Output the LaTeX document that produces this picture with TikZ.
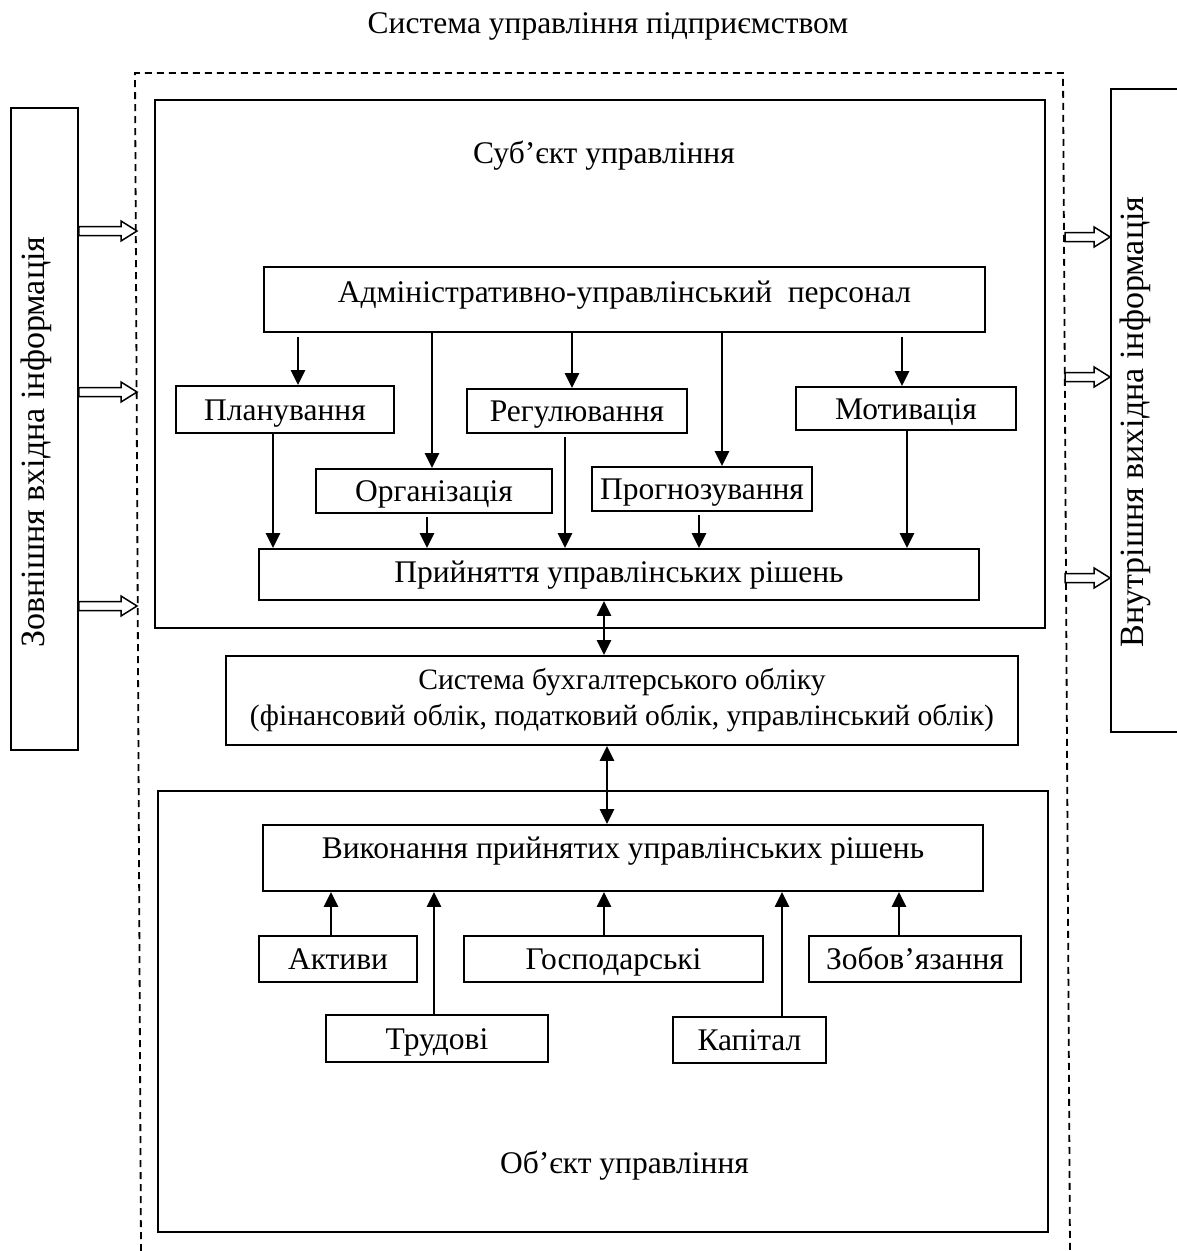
\documentclass[tikz,border=0pt]{standalone}
\usepackage{fontspec}
\setmainfont{Liberation Serif}
\usetikzlibrary{arrows.meta,calc}
\newcommand\blockarr[2]{\draw[hollow] let \p1=(#1), \p2=(#2) in
  (\x1,\y1+4.5pt) -- (\x2-16pt,\y1+4.5pt) -- (\x2-16pt,\y1+10pt) -- (\x2,\y1) --
  (\x2-16pt,\y1-10pt) -- (\x2-16pt,\y1-4.5pt) -- (\x1,\y1-4.5pt) -- cycle;}
\begin{document}
\begin{tikzpicture}[x=1pt,y=-1pt,
  bx/.style n args={2}{draw, line width=1.8pt, inner sep=0pt, minimum width=#1pt, minimum height=#2pt,
     font=\fontsize{31.5}{38}\selectfont, text height=21pt, text depth=0pt},
  big/.style n args={2}{draw, line width=1.8pt, inner sep=0pt, minimum width=#1pt, minimum height=#2pt},
  lbl/.style={font=\fontsize{31.5}{38}\selectfont, anchor=base, inner sep=0pt},
  vlbl/.style={font=\fontsize{34}{40}\selectfont, anchor=base, inner sep=0pt, rotate=90},
  arr/.style={line width=2.4pt, -{Triangle[width=14pt,length=15pt]}},
  darr/.style={line width=2.4pt, {Triangle[width=14pt,length=15pt]}-{Triangle[width=14pt,length=15pt]}},
  dframe/.style={line width=1.8pt, dash pattern=on 7pt off 5pt},
  hollow/.style={draw, line width=1.5pt, fill=white, line join=miter},
]
\useasboundingbox (0,0) rectangle (1176,1251);

% outer dashed frame
\coordinate (fA) at (141,1251);
\coordinate (fB) at (135,73);
\coordinate (fC) at (1063,73);
\coordinate (fD) at (1070,1251);
\draw[dframe] (fA) -- (fB) -- (fC) -- (fD);

\node[lbl] (title) at (608,33) {Система управління підприємством};

% big boxes
\node[big={890}{528}] (subj) at (600,364) {};
\node[big={890}{441}] (obj) at (603,1011.5) {};
\node[big={67}{642}] (leftbox) at (44.5,429) {};
\node[big={70}{643}] (rightbox) at (1146,410.5) {};

\node[lbl] (subjlbl) at (604,163) {Суб’єкт управління};
\node[lbl] (objlbl) at (624.5,1173) {Об’єкт управління};
\node[vlbl] (lefttxt) at (45,442) {Зовнішня вхідна інформація};
\node[vlbl] (righttxt) at (1143,422) {Внутрішня вихідна інформація};

% subject boxes
\node[bx={721}{65}, text depth=16pt] (admin) at (624.5,299.5) {Адміністративно-управлінський\ \ персонал};
\node[bx={218}{47}] (plan) at (285,409.5) {Планування};
\node[bx={236}{44}] (org) at (434,491) {Організація};
\node[bx={220}{44}] (reg) at (577,411) {Регулювання};
\node[bx={220}{44}] (prog) at (702,489) {Прогнозування};
\node[bx={220}{43}] (motiv) at (906,408.5) {Мотивація};
\node[bx={720}{51}, text depth=6pt] (pryin) at (619,574.5) {Прийняття управлінських рішень};

\node[big={792}{89}, align=center, font=\fontsize{29.6}{36}\selectfont] (buh) at (622,700.5)
  {Система бухгалтерського обліку\\(фінансовий облік, податковий облік, управлінський облік)};

% object boxes
\node[bx={720}{66}, text depth=21pt] (vyk) at (623,858) {Виконання прийнятих управлінських рішень};
\node[bx={158}{46}] (akt) at (338,959) {Активи};
\node[bx={222}{47}] (trud) at (437,1038.5) {Трудові};
\node[bx={299}{46}] (gosp) at (613.5,959) {Господарські};
\node[bx={153}{46}] (kap) at (749.5,1040) {Капітал};
\node[bx={212}{46}] (zob) at (915,959) {Зобов’язання};

% arrow x positions
\coordinate (xa1) at (298,0);
\coordinate (xa2) at (432,0);
\coordinate (xa3) at (572,0);
\coordinate (xa4) at (722,0);
\coordinate (xa5) at (902,0);
\coordinate (xb1) at (273,0);
\coordinate (xb2) at (427,0);
\coordinate (xb3) at (565,0);
\coordinate (xb4) at (699,0);
\coordinate (xb5) at (907,0);
\coordinate (xd1) at (604,0);
\coordinate (xd2) at (607,0);
\coordinate (xc1) at (331,0);
\coordinate (xc2) at (434,0);
\coordinate (xc3) at (604,0);
\coordinate (xc4) at (782,0);
\coordinate (xc5) at (899,0);

\draw[arr, shorten <=4pt] (admin.south -| xa1) -- (plan.north -| xa1);
\draw[arr] (admin.south -| xa2) -- (org.north -| xa2);
\draw[arr] (admin.south -| xa3) -- (reg.north -| xa3);
\draw[arr] (admin.south -| xa4) -- (prog.north -| xa4);
\draw[arr, shorten <=4pt] (admin.south -| xa5) -- (motiv.north -| xa5);

\draw[arr] (plan.south -| xb1) -- (pryin.north -| xb1);
\draw[arr, shorten <=3pt] (org.south -| xb2) -- (pryin.north -| xb2);
\draw[arr, shorten <=3pt] (reg.south -| xb3) -- (pryin.north -| xb3);
\draw[arr, shorten <=3pt] (prog.south -| xb4) -- (pryin.north -| xb4);
\draw[arr] (motiv.south -| xb5) -- (pryin.north -| xb5);

\draw[darr] (pryin.south -| xd1) -- (buh.north -| xd1);
\draw[darr] (buh.south -| xd2) -- (vyk.north -| xd2);

\draw[arr] (akt.north -| xc1) -- (vyk.south -| xc1);
\draw[arr] (trud.north -| xc2) -- (vyk.south -| xc2);
\draw[arr] (gosp.north -| xc3) -- (vyk.south -| xc3);
\draw[arr] (kap.north -| xc4) -- (vyk.south -| xc4);
\draw[arr] (zob.north -| xc5) -- (vyk.south -| xc5);

% hollow block arrows
\coordinate (L1) at (137,231);
\coordinate (L2) at (137,392);
\coordinate (L3) at (137,606);
\blockarr{leftbox.east |- L1}{L1}
\blockarr{leftbox.east |- L2}{L2}
\blockarr{leftbox.east |- L3}{L3}
\coordinate (R1) at (1065,237);
\coordinate (R2) at (1065,377);
\coordinate (R3) at (1065,578);
\blockarr{R1}{rightbox.west |- R1}
\blockarr{R2}{rightbox.west |- R2}
\blockarr{R3}{rightbox.west |- R3}
\end{tikzpicture}
\end{document}
